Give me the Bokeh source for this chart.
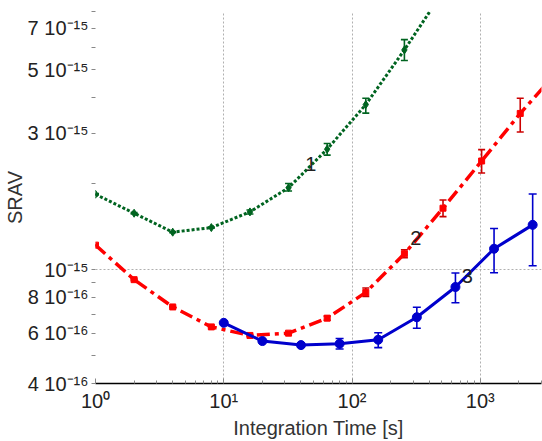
from bokeh.plotting import figure
from bokeh.models import ColumnDataSource, FixedTicker, Whisker, TeeHead, Range1d
from bokeh.core.properties import value
from bokeh.embed import file_html
from bokeh.resources import INLINE

# ---------------- data ----------------
x1 = [1, 2, 4, 8, 16, 32, 64, 128, 256, 512]
y1 = [1.836e-15, 1.576e-15, 1.353e-15, 1.404e-15, 1.593e-15, 1.935e-15, 2.64e-15, 3.78e-15, 5.87e-15, 9.4e-15]
lo1 = [1.827e-15, 1.568e-15, 1.346e-15, 1.397e-15, 1.567e-15, 1.885e-15, 2.516e-15, 3.53e-15, 5.39e-15, 8.5e-15]
hi1 = [1.845e-15, 1.584e-15, 1.360e-15, 1.411e-15, 1.618e-15, 2.002e-15, 2.764e-15, 3.98e-15, 6.38e-15, 1.03e-14]

x2 = [1, 2, 4, 8, 16, 32, 64, 128, 256, 512, 1024, 2048, 4096]
y2 = [1.219e-15, 9.23e-16, 7.41e-16, 6.31e-16, 5.89e-16, 6.0e-16, 6.77e-16, 8.33e-16, 1.137e-15, 1.641e-15, 2.40e-15, 3.52e-15, 5.0e-15]
lo2 = [1.213e-15, 9.18e-16, 7.37e-16, 6.28e-16, 5.86e-16, 5.97e-16, 6.66e-16, 8.07e-16, 1.101e-15, 1.534e-15, 2.18e-15, 3.03e-15, 4.3e-15]
hi2 = [1.225e-15, 9.28e-16, 7.45e-16, 6.34e-16, 5.92e-16, 6.03e-16, 6.88e-16, 8.63e-16, 1.174e-15, 1.754e-15, 2.63e-15, 3.98e-15, 5.8e-15]

x3 = [10, 20, 40, 80, 160, 320, 640, 1280, 2560]
y3 = [6.52e-16, 5.63e-16, 5.45e-16, 5.51e-16, 5.69e-16, 6.82e-16, 8.70e-16, 1.184e-15, 1.435e-15]
lo3 = [6.49e-16, 5.60e-16, 5.36e-16, 5.28e-16, 5.34e-16, 6.24e-16, 7.66e-16, 9.76e-16, 1.033e-15]
hi3 = [6.55e-16, 5.66e-16, 5.54e-16, 5.75e-16, 6.02e-16, 7.39e-16, 9.74e-16, 1.393e-15, 1.84e-15]

curve_names = ["1", "2", "3"]
name_x = [47.7, 313.7, 793.0]
name_y = [2.34e-15, 1.29e-15, 9.48e-16]

x_ticks = [1, 10, 100, 1000]
x_labels = ["10⁰", "10¹", "10²", "10³"]
y_ticks = [4e-16, 6e-16, 8e-16, 1e-15, 3e-15, 5e-15, 7e-15]
y_labels = ["4 10⁻¹⁶", "6 10⁻¹⁶", "8 10⁻¹⁶", "10⁻¹⁵", "3 10⁻¹⁵", "5 10⁻¹⁵", "7 10⁻¹⁵"]
y_minor = [5e-16, 7e-16, 9e-16, 2e-15, 4e-15, 6e-15, 8e-15]
x_minor = [m * d for d in (1, 10, 100) for m in range(2, 10)] + [2000, 3000]

FONT = "Liberation Sans"

p = figure(width=542, height=441, x_axis_type="log", y_axis_type="log",
           x_range=Range1d(1, 3000), y_range=Range1d(4e-16, 8e-15),
           output_backend="svg", toolbar_location=None,
           min_border_left=0, min_border_right=1, min_border_top=11, min_border_bottom=0,
           x_axis_label="Integration Time [s]", y_axis_label="SRAV")
p.outline_line_color = None
p.background_fill_color = "white"

# axes
p.xaxis.ticker = FixedTicker(ticks=x_ticks, minor_ticks=x_minor)
p.xaxis.major_label_overrides = dict(zip(x_ticks, x_labels))
p.yaxis.ticker = FixedTicker(ticks=y_ticks, minor_ticks=y_minor)
p.yaxis.major_label_overrides = dict(zip(y_ticks, y_labels))

for ax in (p.xaxis[0], p.yaxis[0]):
    ax.major_label_text_font = FONT
    ax.major_label_text_font_size = "20px"
    ax.major_label_text_color = "#222222"
    ax.axis_label_text_font = FONT
    ax.axis_label_text_font_size = "20px"
    ax.axis_label_text_font_style = "normal"
    ax.axis_label_text_color = "#333333"
    ax.major_tick_line_color = "#888888"
    ax.minor_tick_line_color = "#888888"

p.xaxis.axis_line_color = "black"
p.xaxis.axis_line_width = 1.5
p.xaxis.major_tick_in = 5
p.xaxis.major_tick_out = 0
p.xaxis.minor_tick_in = 3
p.xaxis.minor_tick_out = 0
p.xaxis.major_label_standoff = 6
p.xaxis.axis_label_standoff = 2

p.yaxis.axis_line_color = None
p.yaxis.major_tick_in = 0
p.yaxis.major_tick_out = 4
p.yaxis.minor_tick_in = 0
p.yaxis.minor_tick_out = 4
p.yaxis.major_label_standoff = 3
p.yaxis.axis_label_standoff = -1

# grids
p.xgrid.ticker = FixedTicker(ticks=x_ticks)
p.ygrid.ticker = FixedTicker(ticks=[1e-15])
for g in (p.xgrid[0], p.ygrid[0]):
    g.grid_line_color = "#b0b0b0"
    g.grid_line_dash = "2 2"
    g.grid_line_width = 1

def series(xs, ys, lo, hi, color, ecolor, dash, lw, marker, msize, cap):
    src = ColumnDataSource(dict(x=xs, y=ys, lower=lo, upper=hi))
    p.line("x", "y", source=src, line_color=color, line_width=lw, line_dash=dash)
    p.add_layout(Whisker(source=src, base="x", lower="lower", upper="upper",
                         line_color=ecolor, line_width=1.6,
                         upper_head=TeeHead(size=cap, line_color=ecolor, line_width=1.6),
                         lower_head=TeeHead(size=cap, line_color=ecolor, line_width=1.6)))
    p.scatter("x", "y", source=src, marker=marker, size=msize,
              fill_color=color, line_color=color)

series(x1, y1, lo1, hi1, "#006420", "#006420", "3 2", 3, "diamond", 8, 7)
series(x2, y2, lo2, hi2, "#ff0000", "#cc0000", "13 5 4 5", 3.5, "square", 6, 7)
series(x3, y3, lo3, hi3, "#0000cc", "#0000cc", "solid", 3, "circle", 9, 8)

p.text(x=name_x, y=name_y, text=curve_names, text_font=value(FONT),
       text_font_size="20px", text_color="#222222",
       text_align="center", text_baseline="middle")

open("out.html", "w").write(file_html(p, INLINE))
